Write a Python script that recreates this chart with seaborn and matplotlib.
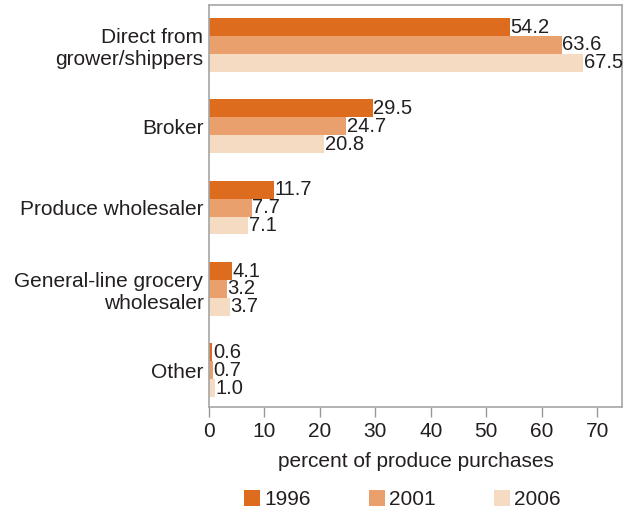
import matplotlib
matplotlib.use("Agg")
import matplotlib.pyplot as plt
import seaborn as sns
import pandas as pd

categories = ["Direct from\ngrower/shippers", "Broker", "Produce wholesaler",
              "General-line grocery\nwholesaler", "Other"]
years = ["1996", "2001", "2006"]
v1996 = [54.2, 29.5, 11.7, 4.1, 0.6]
v2001 = [63.6, 24.7, 7.7, 3.2, 0.7]
v2006 = [67.5, 20.8, 7.1, 3.7, 1.0]
xticks = [0, 10, 20, 30, 40, 50, 60, 70]
colors = ["#DD6C1E", "#EAA06C", "#F6DBC3"]

rows = []
for yr, vals in zip(years, [v1996, v2001, v2006]):
    for c, v in zip(categories, vals):
        rows.append({"category": c, "year": yr, "value": v})
df = pd.DataFrame(rows)

sns.set_style("white")
plt.rcParams["font.family"] = ["Liberation Sans", "DejaVu Sans"]
plt.rcParams["text.color"] = "#231F20"

fig = plt.figure(figsize=(6.24, 5.13), dpi=100)
ax = fig.add_axes([0.335, 0.207, 0.662, 0.783])

sns.barplot(data=df, y="category", x="value", hue="year", order=categories,
            hue_order=years, palette=colors, orient="h", width=0.66,
            saturation=1, ax=ax, legend=True, linewidth=0, edgecolor="none")

for cont in ax.containers:
    ax.bar_label(cont, labels=[f"{b.get_width():.1f}" for b in cont],
                 padding=0.5, fontsize=14.5, color="#231F20")

ax.set_xlim(0, 74.5)
ax.set_ylim(4.45, -0.49)
ax.set_xticks(xticks)
ax.set_xticklabels([str(t) for t in xticks], fontsize=15, color="#231F20")
ax.tick_params(axis="x", direction="out", length=7, width=1, color="#999999", pad=4, bottom=True)
ax.tick_params(axis="y", length=0, labelsize=15, pad=4, labelcolor="#231F20")
ax.set_ylabel("")
ax.set_xlabel("percent of produce purchases", fontsize=15, color="#231F20", labelpad=8)
for s in ax.spines.values():
    s.set_color("#A6A6A6")
    s.set_linewidth(1.2)

handles, labels = ax.get_legend_handles_labels()
ax.get_legend().remove()
fig.legend(handles, labels, loc="center", bbox_to_anchor=(0.645, 0.026), ncol=3,
           frameon=False, fontsize=15, handlelength=0.77, handleheight=0.77,
           handletextpad=0.2, columnspacing=2.8, borderaxespad=0)

fig.savefig("out.png", dpi=100)
